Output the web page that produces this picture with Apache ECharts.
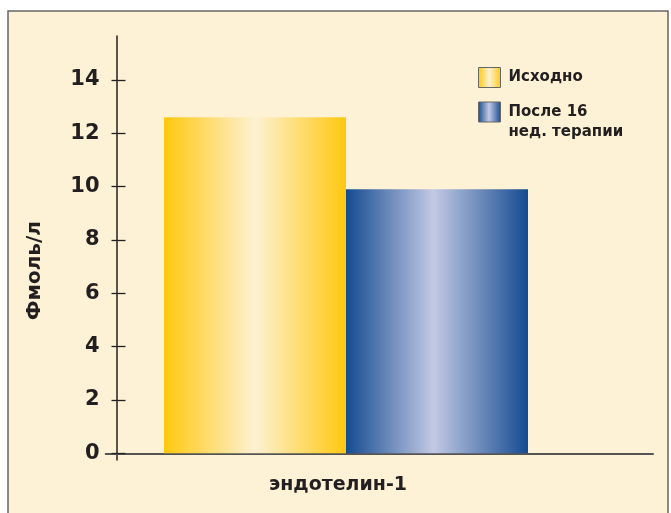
<!DOCTYPE html>
<html>
<head>
<meta charset="utf-8">
<script src="https://cdn.jsdelivr.net/npm/echarts@6/dist/echarts.min.js"></script>
<style>
  body { margin: 0; background: #fff; }
  #chart { width: 671px; height: 513px; }
</style>
</head>
<body>
<div id="chart"></div>
<script>
// данные
var categories = ['эндотелин-1'];
var seriesNames = ['Исходно', 'После 16\nнед. терапии'];
var baseline = [12.6];
var after16 = [9.9];
var yTicks = { min: 0, max: 14, step: 2 };

var ink = '#231f20';
var font = 'DejaVu Sans';

function barGrad(edge, mid, pos) {
  return new echarts.graphic.LinearGradient(0, 0, 1, 0, [
    { offset: 0, color: edge },
    { offset: pos, color: mid },
    { offset: 1, color: edge }
  ]);
}

var chart = echarts.init(document.getElementById('chart'));
chart.setOption({
  backgroundColor: '#fff',
  animation: false,
  graphic: [{
    type: 'rect', z: -10,
    shape: { x: 8, y: 11, width: 660, height: 520 },
    style: { fill: '#fdf2d5', stroke: '#666', lineWidth: 1.5 }
  }],
  grid: [
    // основная область (0..14)
    { left: 116.5, top: 80, width: 459, bottom: 59.7 },
    // продолжение оси Y вверх и вниз
    { left: 116.5, top: 36, width: 459, bottom: 53 },
    // линия оси X
    { left: 105.7, top: 80, right: 18, bottom: 59.7 }
  ],
  legend: {
    orient: 'vertical',
    left: 478, top: 67,
    padding: 0,
    itemWidth: 22, itemHeight: 20, itemGap: -6,
    icon: 'rect',
    selectedMode: false,
    itemStyle: { borderColor: '#666', borderWidth: 1 },
    textStyle: { fontFamily: font, fontWeight: 'bold', fontSize: 15, color: ink, lineHeight: 20, padding: [0, 0, 0, 3] },
    // вторая подпись: первая строка на уровне значка
    formatter: function (name) {
      return name === seriesNames[1] ? '\n' + name : name;
    },
    data: seriesNames
  },
  xAxis: [
    {
      gridIndex: 0, type: 'category', data: categories,
      axisLine: { show: false }, axisTick: { show: false },
      axisLabel: { margin: 22, padding: [0, 16, 0, 0], fontFamily: font, fontWeight: 'bold', fontSize: 19, color: ink }
    },
    { gridIndex: 1, type: 'value', show: false },
    {
      gridIndex: 2, type: 'value', min: 0, max: 1,
      axisLine: { show: true, lineStyle: { color: '#555', width: 2 } },
      axisTick: { show: false }, axisLabel: { show: false }, splitLine: { show: false }
    }
  ],
  yAxis: [
    {
      gridIndex: 0, type: 'value', min: yTicks.min, max: yTicks.max, interval: yTicks.step,
      name: 'Фмоль/л', nameLocation: 'middle', nameRotate: 90, nameGap: 72,
      nameTextStyle: { fontFamily: font, fontWeight: 'bold', fontSize: 20, color: ink, padding: [0, 8, 0, 0] },
      axisLine: { show: false },
      axisTick: { show: true, inside: true, length: 9, lineStyle: { color: ink, width: 1.3 } },
      axisLabel: { margin: 17, fontFamily: font, fontWeight: 'bold', fontSize: 21, color: ink },
      splitLine: { show: false }
    },
    {
      gridIndex: 0, type: 'value', position: 'left', min: yTicks.min, max: yTicks.max, interval: yTicks.step,
      axisLine: { show: false },
      axisTick: { show: true, inside: false, length: 5, lineStyle: { color: ink, width: 1.3 } },
      axisLabel: { show: false }, splitLine: { show: false }
    },
    {
      gridIndex: 1, type: 'value', min: 0, max: 1,
      axisLine: { show: true, lineStyle: { color: ink, width: 1.5 } },
      axisTick: { show: false }, axisLabel: { show: false }, splitLine: { show: false }
    },
    { gridIndex: 2, type: 'value', show: false }
  ],
  series: [
    {
      name: seriesNames[0], type: 'bar', xAxisIndex: 0, yAxisIndex: 0,
      data: baseline, barWidth: 182, barGap: '0%',
      itemStyle: { color: barGrad('#ffc80e', '#fdf1d3', 0.5) }
    },
    {
      name: seriesNames[1], type: 'bar', xAxisIndex: 0, yAxisIndex: 0,
      data: after16, barWidth: 182, barGap: '0%',
      itemStyle: { color: barGrad('#144b91', '#c3c9e4', 0.48) }
    }
  ]
});
</script>
</body>
</html>
